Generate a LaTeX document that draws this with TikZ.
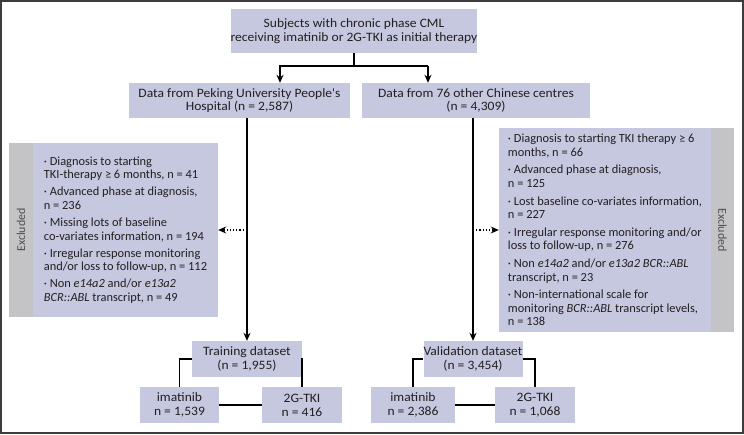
\documentclass[tikz,border=0pt]{standalone}
\usepackage{fontspec}
\setmainfont{Carlito}
\newfontfamily\cellfont{Carlito}[FakeStretch=1.06]
\usetikzlibrary{arrows.meta,positioning}
\definecolor{boxfill}{HTML}{C5C8DF}
\definecolor{tagfill}{HTML}{C4C3C6}
\definecolor{framegray}{HTML}{3C3C3C}
\definecolor{ink}{HTML}{231F20}

\begin{document}
\begin{tikzpicture}[x=1pt, y=-1pt,
    cell/.style={rectangle, fill=boxfill, inner sep=0pt, align=center, text=ink, font=\cellfont\fontsize{12.8}{13.8}\selectfont},
    list/.style={rectangle, fill=boxfill, inner sep=0pt, align=left, text=ink, font=\fontsize{12.4}{13.6}\selectfont},
    tag/.style={rectangle, fill=tagfill, inner sep=0pt, text=ink!80, font=\fontsize{12}{14}\selectfont},
    arrow/.style={-{Stealth[length=8pt,width=7pt]}, line width=1.4pt},
    link/.style={line width=1.4pt},
    skip/.style={-{Stealth[length=8pt,width=7pt]}, line width=1.2pt, dotted}
]
\useasboundingbox (0,0) rectangle (744,434);
\draw[framegray, line width=2pt] (1,1) rectangle (743,433);

% cohort
\node[cell, minimum width=246pt, minimum height=44pt] (subjects) at (354,31)
    {Subjects with chronic phase CML\\receiving imatinib or 2G-TKI as initial therapy};
\node[cell, minimum width=221pt, minimum height=35pt] (pkuph) at (239.5,100.5)
    {Data from Peking University People's\\Hospital (n = 2,587)};
\node[cell, minimum width=228pt, minimum height=35pt] (other) at (476,100.5)
    {Data from 76 other Chinese centres\\(n = 4,309)};

% exclusions
\node[list, minimum width=185pt, minimum height=174pt] (exclL) at (125.5,230)
    {· Diagnosis to starting\\TKI-therapy ≥ 6 months, n = 41\\[3.5pt]
     · Advanced phase at diagnosis,\\n = 236\\[3.5pt]
     · Missing lots of baseline\\co-variates information, n = 194\\[3.5pt]
     · Irregular response monitoring\\and/or loss to follow-up, n = 112\\[3.5pt]
     · Non \textit{e14a2} and/or \textit{e13a2}\\\textit{BCR::ABL} transcript, n = 49};
\node[tag, rotate=90, minimum width=174pt, minimum height=24pt] (tagL) at (21,230) {Excluded};

\node[list, minimum width=212pt, minimum height=204pt] (exclR) at (605,230)
    {· Diagnosis to starting TKI therapy ≥ 6\\months, n = 66\\[4pt]
     · Advanced phase at diagnosis,\\n = 125\\[4pt]
     · Lost baseline co-variates information,\\n = 227\\[4pt]
     · Irregular response monitoring and/or\\loss to follow-up, n = 276\\[4pt]
     · Non \textit{e14a2} and/or \textit{e13a2 BCR::ABL}\\transcript, n = 23\\[4pt]
     · Non-international scale for\\monitoring \textit{BCR::ABL} transcript levels,\\n = 138};
\node[tag, rotate=-90, minimum width=204pt, minimum height=23pt] (tagR) at (722.5,230) {Excluded};

% datasets
\node[cell, minimum width=110pt, minimum height=36pt] (train) at (247,359) {Training dataset\\(n = 1,955)};
\node[cell, minimum width=79pt, minimum height=36pt] (imA) at (179.5,405) {imatinib\\n = 1,539};
\node[cell, minimum width=80pt, minimum height=36pt] (tkiA) at (302,405) {2G-TKI\\n = 416};
\node[cell, minimum width=98pt, minimum height=36pt] (valid) at (473,359) {Validation dataset\\(n = 3,454)};
\node[cell, minimum width=84pt, minimum height=36pt] (imB) at (413,405) {imatinib\\n = 2,386};
\node[cell, minimum width=80pt, minimum height=36pt] (tkiB) at (535,405) {2G-TKI\\n = 1,068};

\coordinate (forkL) at (280,66);
\coordinate (forkR) at (428,66);
\coordinate (cutL) at (247,230);
\coordinate (cutR) at (473,230);

\draw[link] (subjects.south) -- (subjects.south |- forkL);
\draw[arrow] (forkR) -- (forkL) -- (forkL |- pkuph.north);
\draw[arrow] (forkR) -- (forkR |- other.north);
\draw[arrow] (train.north |- pkuph.south) -- (train.north);
\draw[arrow] (valid.north |- other.south) -- (valid.north);
\draw[skip] (cutL) -- (exclL.east |- cutL);
\draw[skip] (cutR) -- (exclR.west |- cutR);

\draw[link] (imA.north) |- (train.west);
\draw[link] (train.east) -| (tkiA.north);
\draw[link] (imA) -- (tkiA);
\draw[link] (imB.north) |- (valid.west);
\draw[link] (valid.east) -| (tkiB.north);
\draw[link] (imB) -- (tkiB);
\end{tikzpicture}
\end{document}
